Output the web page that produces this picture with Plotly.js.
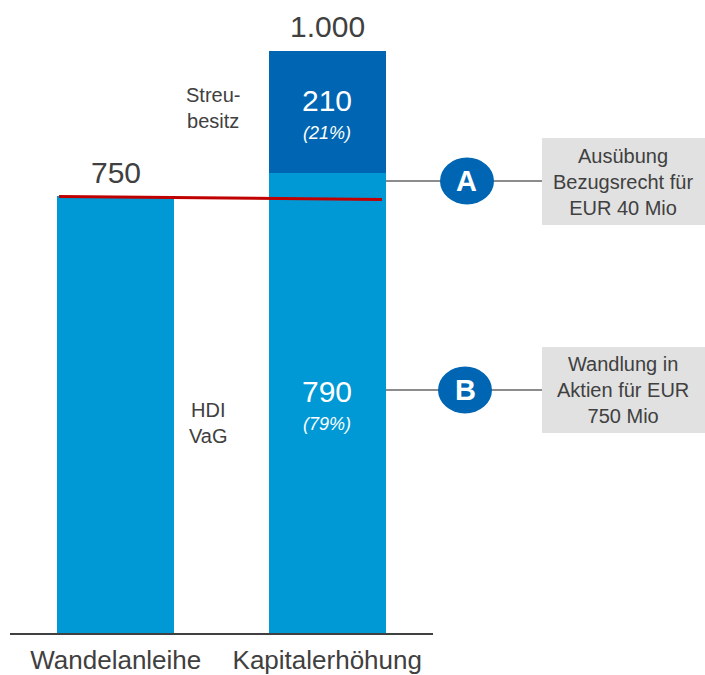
<!DOCTYPE html>
<html>
<head>
<meta charset="utf-8">
<script src="https://cdn.plot.ly/plotly-3.0.1.min.js"></script>
<style>html,body{margin:0;padding:0;background:#fff;}#chart{width:705px;height:675px;}</style>
</head>
<body>
<div id="chart"></div>
<script>
// ---- data ----
const categories = ['Wandelanleihe', 'Kapitalerhöhung'];
const hdiValues = [750, 790];      // HDI VaG / Wandelanleihe (light blue)
const streuValues = [0, 210];      // Streubesitz (dark blue)
const segmentNames = ['HDI\nVaG', 'Streu-\nbesitz'];
const noteLetters = ['A', 'B'];
const noteTexts = ['Ausübung<br>Bezugsrecht für<br>EUR 40 Mio', 'Wandlung in<br>Aktien für EUR<br>750 Mio'];

// ---- style ----
const LIGHT = '#0099d6', DARK = '#0066b3', TXT = '#404040';
const FONT = 'Liberation Sans, Arial, sans-serif';
const W = 705, H = 675;
const M = {l: 10, r: 272, t: 0, b: 42};
const plotW = W - M.l - M.r, plotH = H - M.t - M.b;
const xRange = [-0.5, 1.5];
const yMax = 1087.6;
const yRange = [0, yMax];
const px2paperX = p => (p - M.l) / plotW;
const px2paperY = p => (H - M.b - p) / plotH;

const totals = hdiValues.map((v, i) => v + streuValues[i]);
const fmt = n => String(n).replace(/\B(?=(\d{3})+(?!\d))/g, '.');

const traces = [
  {type: 'bar', x: [0, 1], y: hdiValues, marker: {color: LIGHT}, width: 0.553, hoverinfo: 'skip', name: 'HDI VaG'},
  {type: 'bar', x: [0, 1], y: streuValues, marker: {color: DARK}, width: 0.553, hoverinfo: 'skip', name: 'Streubesitz'}
];

const ann = [];
// totals above bars
totals.forEach((t, i) => {
  ann.push({x: i, y: t, xref: 'x', yref: 'y', text: fmt(t), showarrow: false,
    yanchor: 'middle', yshift: 24, font: {family: FONT, size: 30, color: TXT}});
});
// segment labels inside stacked bar
totals.forEach((t, i) => {
  if (!streuValues[i]) return;
  const segs = [[0, hdiValues[i]], [hdiValues[i], t]];
  segs.forEach(([a, b]) => {
    const v = b - a, mid = (a + b) / 2;
    ann.push({x: i, y: mid, xref: 'x', yref: 'y', text: fmt(v), showarrow: false,
      yanchor: 'middle', yshift: 12, font: {family: FONT, size: 30, color: '#ffffff'}});
    ann.push({x: i, y: mid, xref: 'x', yref: 'y', text: '<i>(' + Math.round(v / t * 100) + '%)</i>', showarrow: false,
      yanchor: 'middle', yshift: -21, font: {family: FONT, size: 18, color: '#ffffff'}});
  });
});
// segment names in the gap
ann.push({x: px2paperX(213), y: px2paperY(108), xref: 'paper', yref: 'paper', text: segmentNames[1].replace('\n', '<br>'),
  showarrow: false, xanchor: 'center', yanchor: 'middle', font: {family: FONT, size: 20, color: TXT}});
ann.push({x: px2paperX(208), y: px2paperY(423), xref: 'paper', yref: 'paper', text: segmentNames[0].replace('\n', '<br>'),
  showarrow: false, xanchor: 'center', yanchor: 'middle', font: {family: FONT, size: 20, color: TXT}});

const shapes = [];
// red reference line
shapes.push({type: 'line', xref: 'x', yref: 'y', x0: -0.268, x1: 1.259, y0: hdiValues[0], y1: hdiValues[0] - 5,
  line: {color: '#c00000', width: 3}});
// callouts
const calloutY = [181, 390];
const circleX = [467, 465];
const boxY = [[138, 225], [347, 433]];
calloutY.forEach((cy, k) => {
  shapes.push({type: 'line', xref: 'paper', yref: 'paper', x0: px2paperX(386), x1: px2paperX(542),
    y0: px2paperY(cy), y1: px2paperY(cy), line: {color: '#8c8c8c', width: 2}});
  shapes.push({type: 'rect', xref: 'paper', yref: 'paper', x0: px2paperX(542), x1: px2paperX(706),
    y0: px2paperY(boxY[k][1]), y1: px2paperY(boxY[k][0]), fillcolor: '#e1e1e1', line: {width: 0}});
  shapes.push({type: 'circle', xref: 'paper', yref: 'paper', xsizemode: 'pixel', ysizemode: 'pixel',
    xanchor: px2paperX(circleX[k]), yanchor: px2paperY(cy), x0: -27, x1: 27, y0: -23.5, y1: 23.5,
    fillcolor: DARK, line: {width: 0}});
  ann.push({x: px2paperX(circleX[k]), y: px2paperY(cy), xref: 'paper', yref: 'paper', text: '<b>' + noteLetters[k] + '</b>',
    showarrow: false, yanchor: 'middle', xanchor: 'center', font: {family: FONT, size: 29, color: '#ffffff'}});
  ann.push({x: px2paperX(623), y: px2paperY((boxY[k][0] + boxY[k][1]) / 2), xref: 'paper', yref: 'paper',
    text: noteTexts[k], showarrow: false, yanchor: 'middle', xanchor: 'center',
    font: {family: FONT, size: 20, color: TXT}});
});

const layout = {
  width: W, height: H, margin: M,
  paper_bgcolor: '#ffffff', plot_bgcolor: '#ffffff',
  barmode: 'stack', showlegend: false,
  xaxis: {range: xRange, tickvals: [0, 1], ticktext: categories, showgrid: false, zeroline: false,
    showline: true, linecolor: TXT, linewidth: 2, ticks: '', fixedrange: true, ticklabelstandoff: 3,
    tickfont: {family: FONT, size: 26, color: TXT}},
  yaxis: {range: yRange, visible: false, showgrid: false, zeroline: false, fixedrange: true},
  shapes: shapes, annotations: ann
};

Plotly.newPlot('chart', traces, layout, {displayModeBar: false, staticPlot: true});
</script>
</body>
</html>
